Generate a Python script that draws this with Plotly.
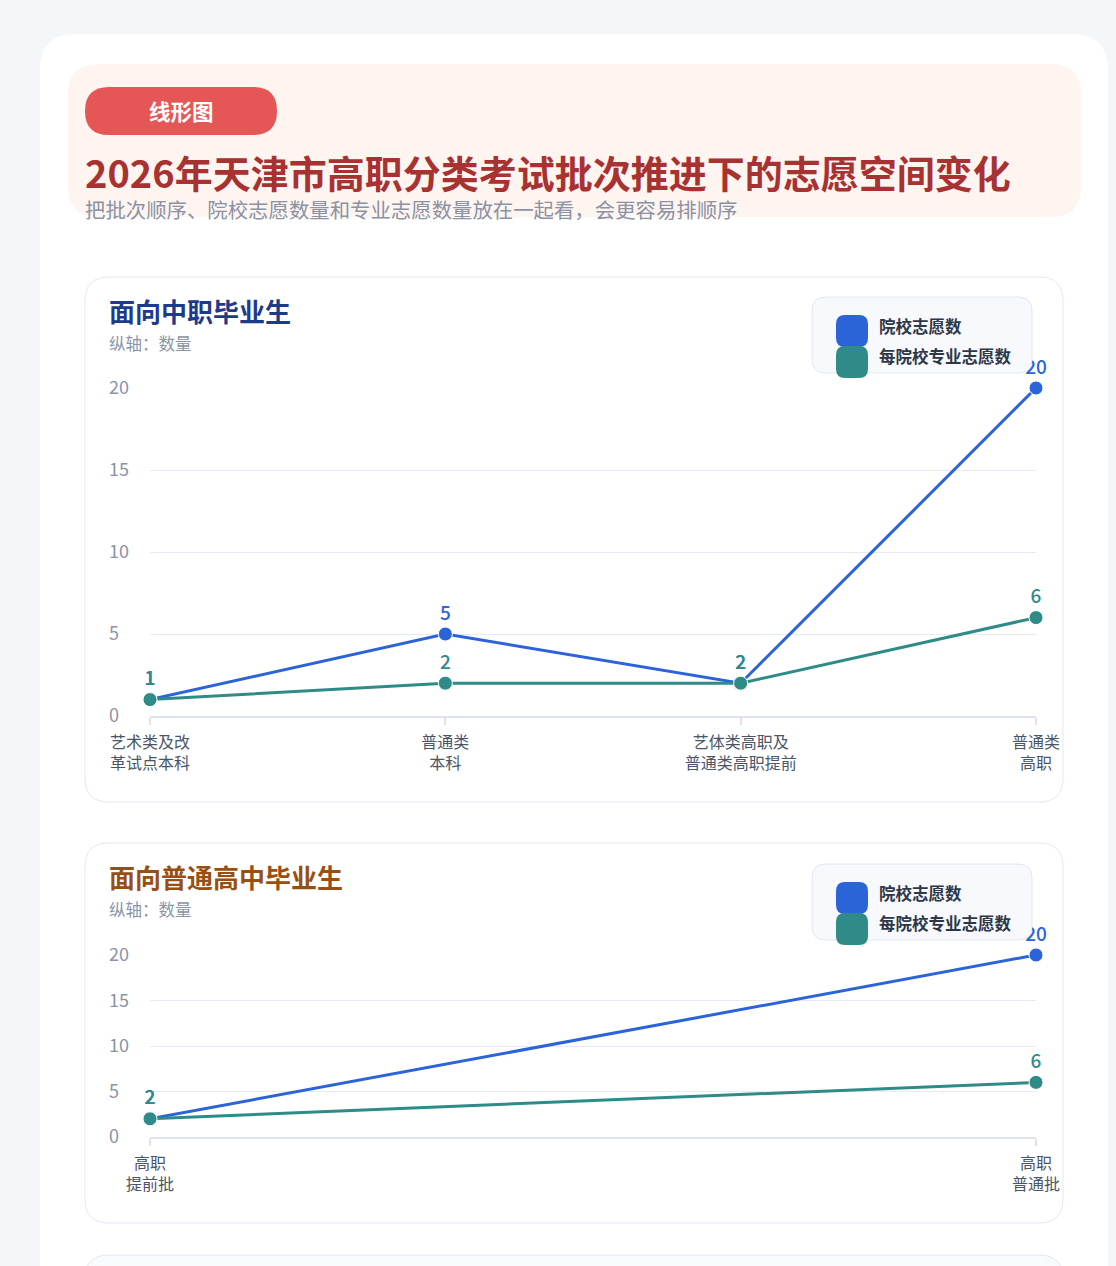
import plotly.graph_objects as go

W, H = 1116, 1266
FONT = "Noto Sans CJK SC, Noto Sans, sans-serif"

# ---------------- data ----------------
cats_a = ["艺术类及改<br>革试点本科", "普通类<br>本科", "艺体类高职及<br>普通类高职提前", "普通类<br>高职"]
inst_a = [1, 5, 2, 20]
major_a = [1, 2, 2, 6]

cats_b = ["高职<br>提前批", "高职<br>普通批"]
inst_b = [2, 20]
major_b = [2, 6]

series_names = ["院校志愿数", "每院校专业志愿数"]
y_ticks = [0, 5, 10, 15, 20]
y_ticktext = ["0\u2007", "5\u2007", "10", "15", "20"]

BLUE = "#2b63d9"
TEAL = "#2e8b87"


def px(x):
    return x / W


def py(y):
    return 1 - y / H


def rrect(x0, y0, x1, y1, r):
    rx, ry = r / W, r / H
    X0, X1 = px(x0), px(x1)
    Y0, Y1 = py(y0), py(y1)  # Y0 top (larger), Y1 bottom
    return (f"M{X0+rx},{Y0} L{X1-rx},{Y0} Q{X1},{Y0} {X1},{Y0-ry} "
            f"L{X1},{Y1+ry} Q{X1},{Y1} {X1-rx},{Y1} L{X0+rx},{Y1} "
            f"Q{X0},{Y1} {X0},{Y1+ry} L{X0},{Y0-ry} Q{X0},{Y0} {X0+rx},{Y0} Z")


fig = go.Figure()

# panel 1 traces
for vals, col, name in [(inst_a, BLUE, series_names[0]), (major_a, TEAL, series_names[1])]:
    fig.add_trace(go.Scatter(
        x=list(range(len(cats_a))), y=vals, mode="lines+markers+text",
        name=name, text=[str(v) for v in vals], textposition="top center",
        textfont=dict(color=col, size=19, family=FONT, weight=500),
        line=dict(color=col, width=3),
        marker=dict(color=col, size=14, line=dict(color="white", width=1)),
        cliponaxis=False, showlegend=False, xaxis="x", yaxis="y"))

# panel 2 traces
for vals, col, name in [(inst_b, BLUE, series_names[0]), (major_b, TEAL, series_names[1])]:
    fig.add_trace(go.Scatter(
        x=list(range(len(cats_b))), y=vals, mode="lines+markers+text",
        name=name, text=[str(v) for v in vals], textposition="top center",
        textfont=dict(color=col, size=19, family=FONT, weight=500),
        line=dict(color=col, width=3),
        marker=dict(color=col, size=14, line=dict(color="white", width=1)),
        cliponaxis=False, showlegend=False, xaxis="x2", yaxis="y2"))

GRID = "#e5eaf3"
LINEC = "#dde3ee"
xdom = [px(150), px(1036)]

common_x = dict(showgrid=False, zeroline=False, showline=True, linecolor=LINEC, linewidth=1.5,
                ticks="outside", ticklen=7, tickcolor=LINEC, tickwidth=1.5,
                tickfont=dict(size=16, color="#4a5568", family=FONT), domain=xdom,
                ticklabelstandoff=4, fixedrange=True, automargin=False)
common_y = dict(showgrid=True, gridcolor=GRID, gridwidth=1, zeroline=False, showline=False,
                tickvals=y_ticks, ticktext=y_ticktext, range=[0, 20],
                tickfont=dict(size=18, color="#8a94a6", family=FONT),
                ticks="", ticklabelstandoff=20, fixedrange=True, automargin=False)

fig.update_layout(
    width=W, height=H, margin=dict(l=0, r=0, t=0, b=0, pad=0), autosize=False,
    paper_bgcolor="#f5f6fa", plot_bgcolor="rgba(0,0,0,0)",
    font=dict(family=FONT),
    xaxis=dict(common_x, range=[0, 3], tickvals=list(range(len(cats_a))), ticktext=cats_a, anchor="y"),
    yaxis=dict(common_y, domain=[py(716), py(388)], anchor="x"),
    xaxis2=dict(common_x, range=[0, 1], tickvals=list(range(len(cats_b))), ticktext=cats_b, anchor="y2"),
    yaxis2=dict(common_y, domain=[py(1137), py(955)], anchor="x2"),
)

shapes = []
# outer white card
shapes.append(dict(type="path", path=rrect(40, 34, 1108, 1400, 36), xref="paper", yref="paper",
                   fillcolor="white", line=dict(width=0), layer="below"))
# header panel
shapes.append(dict(type="path", path=rrect(68, 64, 1081, 217, 30), xref="paper", yref="paper",
                   fillcolor="#fef5f0", line=dict(width=0), layer="below"))
# badge
shapes.append(dict(type="path", path=rrect(85, 87, 277, 135, 24), xref="paper", yref="paper",
                   fillcolor="#e55757", line=dict(width=0), layer="below"))
# chart panels
for (y0, y1, fill) in [(277, 802, "white"), (843, 1223, "white"), (1255, 1400, "#f8fafc")]:
    shapes.append(dict(type="path", path=rrect(85, y0, 1063, y1, 24), xref="paper", yref="paper",
                       fillcolor=fill, line=dict(color="#e2e8f0", width=1), layer="below"))

annotations = []


def ann(x, y, text, size, color, weight=400, xanchor="left"):
    annotations.append(dict(x=px(x), y=py(y), xref="paper", yref="paper", text=text, showarrow=False,
                            xanchor=xanchor, yanchor="middle",
                            font=dict(size=size, color=color, family=FONT, weight=weight)))


ann(181, 110, "线形图", 21.5, "white", 600, "center")
ann(83, 171, "2026年天津市高职分类考试批次推进下的志愿空间变化", 38, "#a83232", 700)
ann(83, 209, "把批次顺序、院校志愿数量和专业志愿数量放在一起看，会更容易排顺序", 20.4, "#8a92a3")

for (ty, title, tcol) in [(311, "面向中职毕业生", "#1e3a8a"), (877, "面向普通高中毕业生", "#9a4f12")]:
    ann(107, ty, title, 26, tcol, 700)
    ann(107, ty + 32, "纵轴：数量", 16.5, "#8a94a6")

# legends (drawn on top of traces)
for ly in [297, 864]:
    shapes.append(dict(type="path", path=rrect(812, ly, 1032, ly + 76, 14), xref="paper", yref="paper",
                       fillcolor="#f7f9fc", line=dict(color="#e2e8f0", width=1), layer="above"))
    shapes.append(dict(type="path", path=rrect(836, ly + 18, 868, ly + 50, 9), xref="paper", yref="paper",
                       fillcolor=BLUE, line=dict(width=0), layer="above"))
    shapes.append(dict(type="path", path=rrect(836, ly + 49, 868, ly + 81, 9), xref="paper", yref="paper",
                       fillcolor=TEAL, line=dict(width=0), layer="above"))
    ann(877, ly + 29, series_names[0], 16.5, "#2d3748", 600)
    ann(877, ly + 59, series_names[1], 16.5, "#2d3748", 600)

fig.update_layout(shapes=shapes, annotations=annotations)
fig.write_html("out.html")
